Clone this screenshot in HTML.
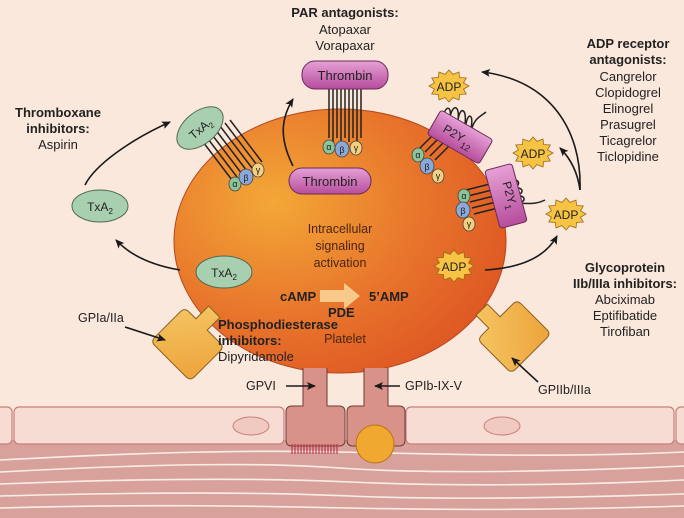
<!DOCTYPE html>
<html><head><style>
body{margin:0;background:#fbe8dc;}
svg{display:block;font-family:"Liberation Sans",sans-serif;}
</style></head><body>
<svg width="684" height="518" viewBox="0 0 684 518" xmlns="http://www.w3.org/2000/svg">
<defs>
<radialGradient id="pl" cx="0.3" cy="0.35" r="0.8">
<stop offset="0" stop-color="#f3a837"/><stop offset="0.55" stop-color="#e8752c"/><stop offset="1" stop-color="#dd5422"/>
</radialGradient>
<linearGradient id="gy" x1="0" y1="0" x2="1" y2="1"><stop offset="0" stop-color="#f6c968"/><stop offset="1" stop-color="#eda33a"/></linearGradient>
<linearGradient id="pk" x1="0" y1="0" x2="0" y2="1"><stop offset="0" stop-color="#e6a0d6"/><stop offset="1" stop-color="#b64d9c"/></linearGradient>
<polygon id="star" points="20,0 14.5,3.1 17.3,8 10.6,8.5 10,13.9 3.9,11.6 0,16 -3.9,11.6 -10,13.9 -10.6,8.5 -17.3,8 -14.5,3.1 -20,0 -14.5,-3.1 -17.3,-8 -10.6,-8.5 -10,-13.9 -3.9,-11.6 0,-16 3.9,-11.6 10,-13.9 10.6,-8.5 17.3,-8 14.5,-3.1" fill="#f7c343" stroke="#9a6a1a" stroke-width="0.8"/>
<marker id="ar" markerWidth="10" markerHeight="10" refX="8" refY="5" orient="auto" markerUnits="userSpaceOnUse"><path d="M0,1 L9,5 L0,9 L2,5z" fill="#1a1a1a"/></marker>
</defs>
<rect width="684" height="518" fill="#fbe8dc"/>
<!-- subendothelium -->
<rect x="0" y="440" width="684" height="78" fill="#d9a19c"/>
<g stroke="#fbeee8" stroke-width="1.6" fill="none">
<path d="M0,460 C150,452 250,450 340,452 S560,458 684,452"/>
<path d="M0,472 C150,464 260,462 340,468 S560,472 684,466"/>
<path d="M0,484 C150,478 260,478 350,482 S560,486 684,480"/>
<path d="M0,496 C150,492 260,492 350,496 S560,498 684,494"/>
<path d="M0,508 C150,504 260,506 350,508 S560,510 684,506"/>
</g>
<!-- endothelial cells -->
<g fill="#f7dcd3" stroke="#c9807c" stroke-width="1.2">
<rect x="-10" y="407" width="22" height="37" rx="5"/>
<rect x="14" y="407" width="270" height="37" rx="5"/>
<rect x="406" y="407" width="268" height="37" rx="5"/>
<rect x="676" y="407" width="30" height="37" rx="5"/>
</g>
<g fill="#f0c9c0" stroke="#c9807c" stroke-width="1">
<ellipse cx="251" cy="426" rx="18" ry="9"/>
<ellipse cx="502" cy="426" rx="18" ry="9"/>
<ellipse cx="100" cy="426" rx="18" ry="9" opacity="0"/>
</g>
<!-- platelet -->
<ellipse cx="340" cy="241" rx="166" ry="132" fill="url(#pl)" stroke="#b5461c" stroke-width="1"/>
<!-- GPVI / GPIb -->
<g fill="#d9928a" stroke="#6e3a34" stroke-width="1">
<path d="M303,368 L303,406 L292,406 Q286,406 286,412 L286,440 Q286,446 292,446 L339,446 Q345,446 345,440 L345,412 Q345,406 339,406 L327,406 L327,368"/>
<path d="M364,368 L364,406 L353,406 Q347,406 347,412 L347,440 Q347,446 353,446 L399,446 Q405,446 405,440 L405,412 Q405,406 399,406 L388,406 L388,368"/>
</g>
<g stroke="#b83a4a" stroke-width="1.2">
<path d="M292,444v10M295,444v10M298,444v10M301,444v10M304,444v10M307,444v10M310,444v10M313,444v10M316,444v10M319,444v10M322,444v10M325,444v10M328,444v10M331,444v10M334,444v10M337,444v10"/>
</g>
<circle cx="375" cy="444" r="19" fill="#f0a830" stroke="#b8731a" stroke-width="1"/>
<!-- integrins -->
<g transform="translate(186,340) rotate(45)">
<path d="M-8,-40 h16 v18 h18 q6,0 6,6 v36 q0,6 -6,6 h-44 q-6,0 -6,-6 v-36 q0,-6 6,-6 h10z" fill="url(#gy)" stroke="#8a6020" stroke-width="1"/>
</g>
<g transform="translate(510,338) rotate(-45)">
<path d="M-8,-40 h16 v18 h18 q6,0 6,6 v36 q0,6 -6,6 h-44 q-6,0 -6,-6 v-36 q0,-6 6,-6 h10z" fill="url(#gy)" stroke="#8a6020" stroke-width="1"/>
</g>
<!-- TxA2 receptor lines -->
<g stroke="#222" stroke-width="1.5" fill="none">
<path d="M200,138 L232,180 M205,135 L237,177 M210,132 L242,174 M215,129 L247,171 M220,126 L252,168 M225,123 L257,165 M230,120 L262,162"/>
</g>
<ellipse cx="200" cy="128" rx="27" ry="16" transform="rotate(-40 200 128)" fill="#a8d0b0" stroke="#4a6a50" stroke-width="1"/>
<text x="200" y="133" font-size="12" text-anchor="middle" fill="#222" transform="rotate(-40 200 128)">TxA<tspan font-size="8" dy="3">2</tspan></text>
<!-- G proteins TxA2 -->
<g font-size="9" text-anchor="middle" fill="#222" stroke-width="0.8">
<ellipse cx="235" cy="184" rx="6" ry="7" fill="#8cc49a" stroke="#444"/><text x="235" y="187">α</text>
<ellipse cx="246" cy="177" rx="7" ry="8" fill="#8aa8d8" stroke="#444"/><text x="246" y="181">β</text>
<ellipse cx="258" cy="170" rx="6" ry="7" fill="#f3d080" stroke="#444"/><text x="258" y="173">γ</text>
</g>
<!-- Thrombin receptor -->
<g stroke="#222" stroke-width="1.5" fill="none">
<path d="M329,88 V138 M333,88 V142 M337,88 V138 M341,88 V142 M345,88 V138 M349,88 V142 M353,88 V138 M357,88 V142 M361,88 V138"/>
</g>
<rect x="302" y="61" width="86" height="28" rx="13" fill="url(#pk)" stroke="#6a2a5a" stroke-width="1"/>
<text x="345" y="80" font-size="13" text-anchor="middle" fill="#222">Thrombin</text>
<g font-size="9" text-anchor="middle" fill="#222" stroke-width="0.8">
<ellipse cx="329" cy="147" rx="6" ry="7" fill="#8cc49a" stroke="#444"/><text x="329" y="150">α</text>
<ellipse cx="342" cy="149" rx="7" ry="8" fill="#8aa8d8" stroke="#444"/><text x="342" y="153">β</text>
<ellipse cx="356" cy="148" rx="6" ry="7" fill="#f3d080" stroke="#444"/><text x="356" y="151">γ</text>
</g>
<rect x="289" y="168" width="82" height="26" rx="13" fill="url(#pk)" stroke="#6a2a5a" stroke-width="1"/>
<text x="330" y="186" font-size="13" text-anchor="middle" fill="#222">Thrombin</text>
<path d="M293,166 C280,140 280,120 293,99" stroke="#1a1a1a" stroke-width="1.6" fill="none" marker-end="url(#ar)"/>
<!-- P2Y12 -->
<g stroke="#222" stroke-width="1.5" fill="none">
<path d="M443,118 C445,105 452,105 450,118 M450,118 C452,104 460,104 458,120 M458,120 C460,106 467,108 465,124 M466,124 C468,112 474,114 471,128 M472,128 C475,118 481,116 486,112"/>
<path d="M420,148 L440,128 M425,152 L445,132 M430,156 L450,136 M435,160 L455,140"/>
</g>
<g transform="translate(460,137) rotate(30)">
<rect x="-30" y="-14" width="60" height="28" rx="3" fill="url(#pk)" stroke="#6a2a5a" stroke-width="1"/>
<text x="-2" y="4" font-size="12" text-anchor="middle" fill="#222">P2Y<tspan font-size="9" dy="5">12</tspan></text>
</g>
<g font-size="9" text-anchor="middle" fill="#222" stroke-width="0.8">
<ellipse cx="418" cy="155" rx="6" ry="7" fill="#8cc49a" stroke="#444"/><text x="418" y="158">α</text>
<ellipse cx="427" cy="166" rx="7" ry="8" fill="#8aa8d8" stroke="#444"/><text x="427" y="170">β</text>
<ellipse cx="438" cy="176" rx="6" ry="7" fill="#f3d080" stroke="#444"/><text x="438" y="179">γ</text>
</g>
<use href="#star" x="449" y="86"/>
<text x="449" y="91" font-size="12" text-anchor="middle" fill="#222">ADP</text>
<!-- P2Y1 -->
<g stroke="#222" stroke-width="1.5" fill="none">
<path d="M510,180 C520,178 522,186 512,188 M512,188 C524,186 526,194 514,196 M514,196 C526,194 528,202 516,204 M516,204 C528,202 532,206 545,200"/>
<path d="M466,190 L498,182 M468,196 L500,188 M470,202 L502,194 M472,208 L504,200 M474,214 L506,206"/>
</g>
<g transform="translate(506,196) rotate(-15)">
<rect x="-14" y="-30" width="28" height="60" rx="3" fill="url(#pk)" stroke="#6a2a5a" stroke-width="1"/>
<text x="0" y="0" font-size="12" text-anchor="middle" fill="#222" transform="rotate(90)">P2Y<tspan font-size="9" dy="4">1</tspan></text>
</g>
<g font-size="9" text-anchor="middle" fill="#222" stroke-width="0.8">
<ellipse cx="464" cy="196" rx="6" ry="7" fill="#8cc49a" stroke="#444"/><text x="464" y="199">α</text>
<ellipse cx="463" cy="210" rx="7" ry="8" fill="#8aa8d8" stroke="#444"/><text x="463" y="214">β</text>
<ellipse cx="469" cy="224" rx="6" ry="7" fill="#f3d080" stroke="#444"/><text x="469" y="227">γ</text>
</g>
<use href="#star" x="533" y="153"/>
<text x="533" y="158" font-size="12" text-anchor="middle" fill="#222">ADP</text>
<use href="#star" x="566" y="214"/>
<text x="566" y="219" font-size="12" text-anchor="middle" fill="#222">ADP</text>
<use href="#star" x="454" y="266"/>
<text x="454" y="271" font-size="12" text-anchor="middle" fill="#222">ADP</text>
<!-- ADP arrows -->
<g stroke="#1a1a1a" stroke-width="1.6" fill="none">
<path d="M485,270 C520,268 545,258 557,236" marker-end="url(#ar)"/>
<path d="M580,190 C582,130 550,80 482,72" marker-end="url(#ar)"/>
<path d="M580,190 C578,175 572,160 560,148" marker-end="url(#ar)"/>
<!-- TxA2 cycle -->
<path d="M180,270 C150,265 130,255 116,240" marker-end="url(#ar)"/>
<path d="M85,185 C95,165 130,140 170,122" marker-end="url(#ar)"/>
<!-- GP arrows -->
<path d="M125,327 L165,340" marker-end="url(#ar)"/>
<path d="M538,382 L512,358" marker-end="url(#ar)"/>
<path d="M286,386 L315,386" marker-end="url(#ar)"/>
<path d="M400,386 L375,386" marker-end="url(#ar)"/>
</g>
<!-- TxA2 free -->
<ellipse cx="100" cy="206" rx="28" ry="16" fill="#a8d0b0" stroke="#4a6a50" stroke-width="1"/>
<text x="100" y="211" font-size="12" text-anchor="middle" fill="#222">TxA<tspan font-size="8" dy="3">2</tspan></text>
<ellipse cx="224" cy="272" rx="28" ry="16" fill="#a8d0b0" stroke="#4a6a50" stroke-width="1"/>
<text x="224" y="277" font-size="12" text-anchor="middle" fill="#222">TxA<tspan font-size="8" dy="3">2</tspan></text>
<!-- inner text -->
<g font-size="12.5" text-anchor="middle" fill="#4a2410">
<text x="340" y="233">Intracellular</text>
<text x="340" y="250">signaling</text>
<text x="340" y="267">activation</text>
<text x="345" y="343">Platelet</text>
</g>
<path d="M320,290 h24 v-7 l16,13 l-16,13 v-7 h-24z" fill="#f8c98a"/>
<g font-size="13" font-weight="bold" fill="#222">
<text x="280" y="301">cAMP</text>
<text x="369" y="301">5’AMP</text>
<text x="328" y="317">PDE</text>
<text x="218" y="329">Phosphodiesterase</text>
<text x="218" y="345">inhibitors:</text>
</g>
<text x="218" y="361" font-size="13" fill="#222">Dipyridamole</text>
<!-- outer labels -->
<g font-size="13" fill="#222" text-anchor="middle">
<text x="345" y="17" font-weight="bold">PAR antagonists:</text>
<text x="345" y="34">Atopaxar</text>
<text x="345" y="50">Vorapaxar</text>
<text x="58" y="117" font-weight="bold">Thromboxane</text>
<text x="58" y="133" font-weight="bold">inhibitors:</text>
<text x="58" y="149">Aspirin</text>
<text x="628" y="48" font-weight="bold">ADP receptor</text>
<text x="628" y="64" font-weight="bold">antagonists:</text>
<text x="628" y="81">Cangrelor</text>
<text x="628" y="97">Clopidogrel</text>
<text x="628" y="113">Elinogrel</text>
<text x="628" y="129">Prasugrel</text>
<text x="628" y="145">Ticagrelor</text>
<text x="628" y="161">Ticlopidine</text>
<text x="625" y="272" font-weight="bold">Glycoprotein</text>
<text x="625" y="288" font-weight="bold">IIb/IIIa inhibitors:</text>
<text x="625" y="304">Abciximab</text>
<text x="625" y="320">Eptifibatide</text>
<text x="625" y="336">Tirofiban</text>
</g>
<g font-size="12.5" fill="#222">
<text x="78" y="322">GPIa/IIa</text>
<text x="246" y="390">GPVI</text>
<text x="405" y="390">GPIb-IX-V</text>
<text x="538" y="394">GPIIb/IIIa</text>
</g>
</svg>
</body></html>
